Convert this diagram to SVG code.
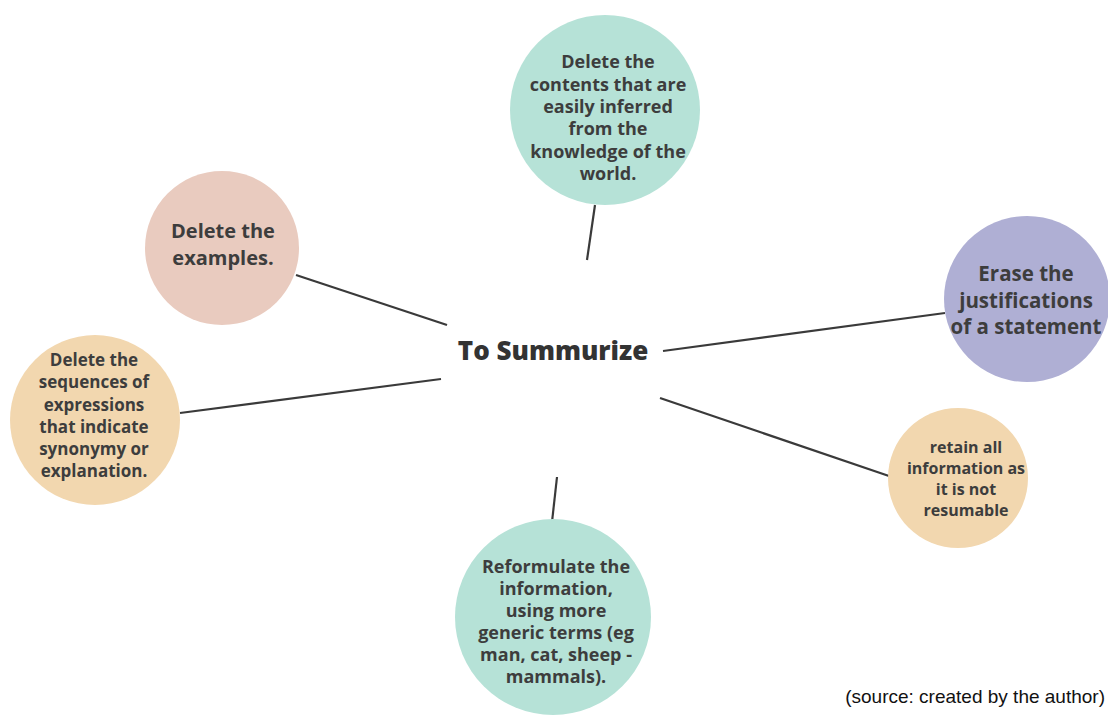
<svg xmlns="http://www.w3.org/2000/svg" width="1108" height="715" viewBox="0 0 1108 715">
<style>
.t{font-family:"Open Sans","Liberation Sans",sans-serif;font-weight:700;fill:#3d3d3d;text-anchor:middle;dominant-baseline:central}
.c{stroke:#3a3a3a;stroke-width:2.2;fill:none}
</style>
<rect width="1108" height="715" fill="#ffffff"/>
<g id="connectors">
<line class="c" x1="595" y1="205" x2="587" y2="260"/>
<line class="c" x1="296" y1="275" x2="447" y2="325"/>
<line class="c" x1="180" y1="413" x2="441" y2="379"/>
<line class="c" x1="663" y1="351" x2="945" y2="313"/>
<line class="c" x1="660" y1="398" x2="889" y2="476"/>
<line class="c" x1="557" y1="477" x2="552" y2="522"/>
</g>
<g id="center">
<text class="t" x="553" y="350" style="font-size:26px;font-weight:800;fill:#333">To Summurize</text>
</g>
<g id="node-top">
<circle cx="605" cy="110" r="95" fill="#b6e2d7"/>
<text class="t" style="font-size:18px"><tspan x="608" y="61">Delete the</tspan><tspan x="608" y="84">contents that are</tspan><tspan x="608" y="106">easily inferred</tspan><tspan x="608" y="128">from the</tspan><tspan x="608" y="151">knowledge of the</tspan><tspan x="608" y="173">world.</tspan></text>
</g>
<g id="node-examples">
<circle cx="222" cy="248" r="77" fill="#e9cbbf"/>
<text class="t" style="font-size:20px"><tspan x="223" y="230">Delete the</tspan><tspan x="223" y="257">examples.</tspan></text>
</g>
<g id="node-sequences">
<circle cx="95" cy="420" r="85" fill="#f2d7af"/>
<text class="t" style="font-size:17px"><tspan x="94" y="359">Delete the</tspan><tspan x="94" y="381">sequences of</tspan><tspan x="94" y="404">expressions</tspan><tspan x="94" y="426">that indicate</tspan><tspan x="94" y="448">synonymy or</tspan><tspan x="94" y="470">explanation.</tspan></text>
</g>
<g id="node-justifications">
<circle cx="1027" cy="299" r="83" fill="#afafd4"/>
<text class="t" style="font-size:20.5px"><tspan x="1026" y="273">Erase the</tspan><tspan x="1026" y="299.5">justifications</tspan><tspan x="1026" y="326">of a statement</tspan></text>
</g>
<g id="node-retain">
<circle cx="958" cy="478" r="70" fill="#f2d7af"/>
<text class="t" style="font-size:16px"><tspan x="966" y="447">retain all</tspan><tspan x="966" y="468">information as</tspan><tspan x="966" y="489">it is not</tspan><tspan x="966" y="510">resumable</tspan></text>
</g>
<g id="node-reformulate">
<circle cx="553" cy="617" r="98" fill="#b6e2d7"/>
<text class="t" style="font-size:18px"><tspan x="556" y="566">Reformulate the</tspan><tspan x="556" y="588">information,</tspan><tspan x="556" y="610">using more</tspan><tspan x="556" y="632">generic terms (eg</tspan><tspan x="556" y="654">man, cat, sheep -</tspan><tspan x="556" y="676">mammals).</tspan></text>
</g>
<text x="1105" y="703" style="font-family:'Liberation Sans',Arial,sans-serif;font-size:19px;fill:#111;text-anchor:end">(source: created by the author)</text>
</svg>
